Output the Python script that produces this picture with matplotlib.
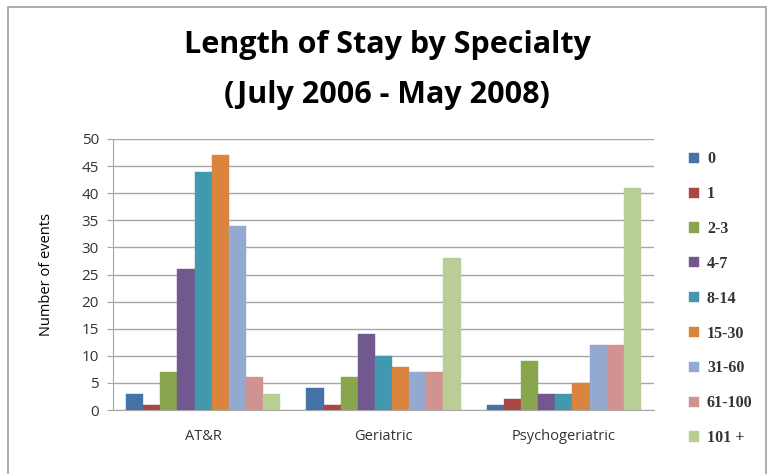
import matplotlib
matplotlib.use("Agg")
import matplotlib.pyplot as plt
import numpy as np
from matplotlib.patches import Rectangle

categories = ["AT&R", "Geriatric", "Psychogeriatric"]
series_names = ["0", "1", "2-3", "4-7", "8-14", "15-30", "31-60", "61-100", "101 +"]
v_0 = [3, 4, 1]
v_1 = [1, 1, 2]
v_2_3 = [7, 6, 9]
v_4_7 = [26, 14, 3]
v_8_14 = [44, 10, 3]
v_15_30 = [47, 8, 5]
v_31_60 = [34, 7, 12]
v_61_100 = [6, 7, 12]
v_101 = [3, 28, 41]
series_values = [v_0, v_1, v_2_3, v_4_7, v_8_14, v_15_30, v_31_60, v_61_100, v_101]
colors = ["#4572A7", "#AA4643", "#89A54E", "#71588F", "#4198AF",
          "#DB843D", "#93A9CF", "#D19392", "#B9CD96"]

plt.rcParams['font.family'] = ['Open Sans', 'DejaVu Sans']

W, H = 773, 474
fig = plt.figure(figsize=(W/100, H/100), dpi=100)
fig.patch.set_facecolor("white")

# border
fig.add_artist(Rectangle((8/W, -0.05), (766-8)/W, 1 - 7/H + 0.05, transform=fig.transFigure,
                         fill=False, edgecolor="#A0A0A0", linewidth=1.2))

ax = fig.add_axes([113/W, 1 - 410/H, (654-113)/W, (410-139)/H])
n = len(series_names)
x = np.arange(len(categories))
bw = 0.855 / n
for i, (name, vals) in enumerate(zip(series_names, series_values)):
    offs = (i - (n - 1) / 2) * bw
    ax.bar(x + offs, vals, width=bw, color=colors[i], label=name, zorder=3,
           edgecolor=colors[i], linewidth=0.3)

ax.set_xlim(-0.5, len(categories) - 0.5)
ax.set_ylim(0, 50)
ax.set_yticks(np.arange(0, 51, 5))
ax.yaxis.grid(True, color="#A6A6A6", linewidth=1.0, zorder=0)
ax.set_xticks(x)
ax.set_xticklabels(categories, fontsize=10.5, color="#333333")
ax.tick_params(axis='x', length=0, pad=14)
ax.tick_params(axis='y', length=4, color="#A6A6A6", labelsize=11, labelcolor="#333333", pad=6)
for s in ["top", "right"]:
    ax.spines[s].set_visible(False)
ax.spines["left"].set_color("#A6A6A6")
ax.spines["bottom"].set_color("#A6A6A6")
ax.set_ylabel("Number of events", fontsize=10.5, color="black", labelpad=20)

fig.text(387/W, 1 - 45/H, "Length of Stay by Specialty", ha="center", va="center",
         fontsize=22, fontweight="bold")
fig.text(387/W, 1 - 95/H, "(July 2006 - May 2008)", ha="center", va="center",
         fontsize=22, fontweight="bold")

handles, labels = ax.get_legend_handles_labels()
leg = fig.legend(handles, labels, loc="upper left", bbox_to_anchor=(683/W, 1 - 145/H),
                 frameon=False, fontsize=11.5, handlelength=0.6, handleheight=0.6,
                 handletextpad=0.5, labelspacing=1.18, borderaxespad=0)
for t in leg.get_texts():
    t.set_family(['Liberation Serif', 'DejaVu Serif'])
    t.set_fontweight('bold')
    t.set_color('#333333')

fig.savefig("out.png", dpi=100)
